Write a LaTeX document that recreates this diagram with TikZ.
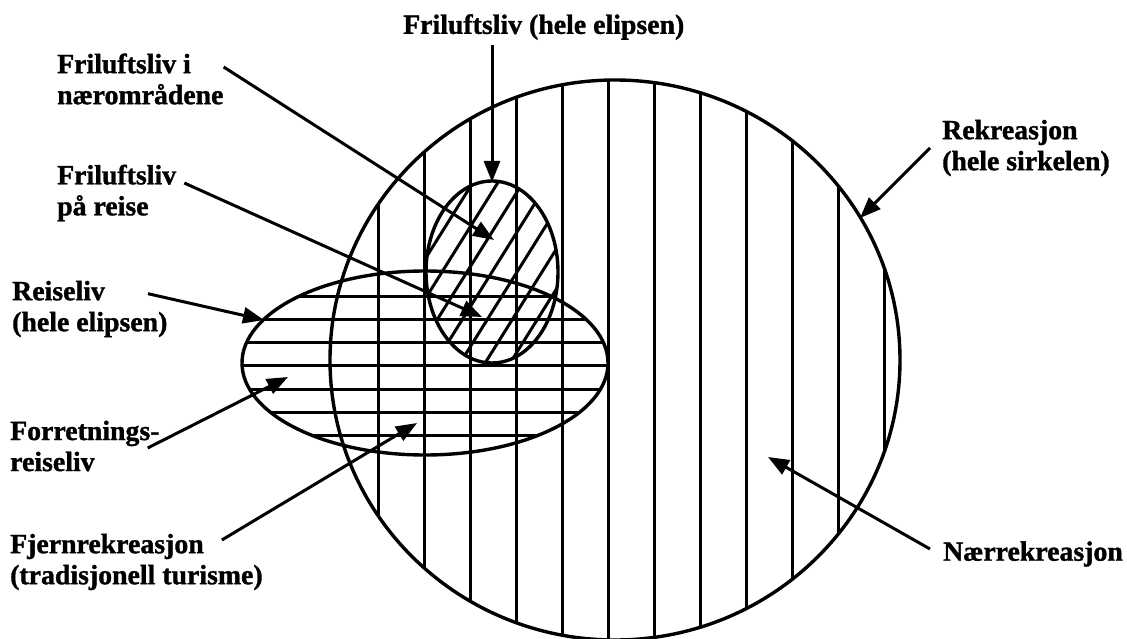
\documentclass[tikz,border=0pt]{standalone}
\usepackage{fontspec}
\setmainfont{Liberation Serif}[BoldFeatures={FakeBold=1.2}]
\usetikzlibrary{arrows.meta}

\begin{document}
\begin{tikzpicture}[x=1pt,y=-1pt,>={Triangle[length=21pt,width=16pt]},
    tag/.style={anchor=west,align=left,inner sep=0pt,
      font=\fontsize{27.8}{31}\selectfont\bfseries},
    hatch/.style={line width=3pt},
    rim/.style={line width=3.4pt},
    pointer/.style={line width=3pt,->}]
  \useasboundingbox (0,0) rectangle (1127,639);
  % vertical stripes: the whole circle
  \begin{scope}
    \clip (615,360) ellipse [x radius=285,y radius=280];
    \foreach \k in {0,...,11}
      \draw[hatch] ({378+46*\k},0) -- ++(0,700);
  \end{scope}
  % horizontal stripes: the wide ellipse
  \begin{scope}
    \clip (425,363) ellipse [x radius=183,y radius=92];
    \foreach \k in {0,...,6}
      \draw[hatch] (200,{296+23.3*\k}) -- ++(450,0);
  \end{scope}
  % slanted stripes: the small ellipse
  \begin{scope}
    \clip (492,272) ellipse [x radius=66,y radius=91];
    \foreach \k in {-4,...,4}
      \draw[hatch] ({424.5+25*\k},380) -- ++(137.5,-220);
  \end{scope}
  \draw[rim] (615,360) ellipse [x radius=285,y radius=280];
  \draw[rim] (425,363) ellipse [x radius=183,y radius=92];
  \draw[rim] (492,272) ellipse [x radius=66,y radius=91];

  % arrow tips
  \coordinate (ovalTop) at (492,182);
  \coordinate (nearTip) at (494,240);
  \coordinate (travelTip) at (482,317);
  \coordinate (reiseTip) at (264,320);
  \coordinate (businessTip) at (288,377);
  \coordinate (farTip) at (417,423);
  \coordinate (circTip) at (860,218);
  \coordinate (nearRecTip) at (768,457);

  % labels
  \node[tag] (topLabel) at (403,27) {Friluftsliv (hele elipsen)};
  \node[tag] (nearLabel) at (57,79) {Friluftsliv i\\nærområdene};
  \node[tag] (travelLabel) at (57,193) {Friluftsliv\\på reise};
  \node[tag] (reiseLabel) at (12,309) {Reiseliv\\(hele elipsen)};
  \node[tag] (businessLabel) at (10,446) {Forretnings-\\reiseliv};
  \node[tag] (farLabel) at (10,562) {Fjernrekreasjon\\(tradisjonell turisme)};
  \node[tag] (recLabel) at (942,148) {Rekreasjon\\(hele sirkelen)};
  \node[tag] (nearRecLabel) at (943,554) {Nærrekreasjon};

  \draw[pointer] ([yshift=-5pt]topLabel.south -| ovalTop) -- (ovalTop);
  \draw[pointer] ([yshift=12pt]nearLabel.east) -- (nearTip);
  \draw[pointer] ([shift={(8pt,10pt)}]travelLabel.east) -- (travelTip);
  \draw[pointer] ([shift={(136pt,-13pt)}]reiseLabel.north west) -- (reiseTip);
  \draw[pointer] ([shift={(-12pt,-2pt)}]businessLabel.east) -- (businessTip);
  \draw[pointer] ([shift={(-41pt,22pt)}]farLabel.east) -- (farTip);
  \draw[pointer] ([xshift=-12pt]recLabel.west) -- (circTip);
  \draw[pointer] ([shift={(-13pt,5pt)}]nearRecLabel.west) -- (nearRecTip);
\end{tikzpicture}
\end{document}
